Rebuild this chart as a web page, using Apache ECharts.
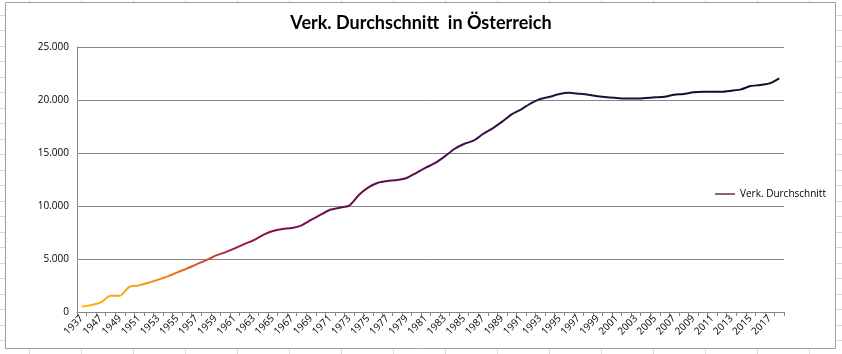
<!DOCTYPE html>
<html><head><meta charset="utf-8">
<script src="https://cdn.jsdelivr.net/npm/echarts@6/dist/echarts.min.js"></script>
<style>html,body{margin:0;padding:0;background:#fff}#c{width:842px;height:354px}</style>
</head><body><div id="c"></div>
<script>
var years = ['1937','1946','1947','1948','1949','1950','1951','1952','1953','1954','1955','1956','1957','1958','1959','1960','1961','1962','1963','1964','1965','1966','1967','1968','1969','1970','1971','1972','1973','1974','1975','1976','1977','1978','1979','1980','1981','1982','1983','1984','1985','1986','1987','1988','1989','1990','1991','1992','1993','1994','1995','1996','1997','1998','1999','2000','2001','2002','2003','2004','2005','2006','2007','2008','2009','2010','2011','2012','2013','2014','2015','2016','2017','2018'];
var values = [500,660,910,1540,1540,2390,2510,2770,3050,3360,3740,4090,4500,4870,5320,5630,6000,6410,6790,7280,7640,7830,7920,8170,8680,9180,9650,9840,10030,11040,11760,12200,12360,12450,12640,13110,13610,14060,14680,15380,15850,16160,16790,17330,17960,18650,19120,19690,20090,20310,20570,20690,20600,20500,20350,20250,20190,20130,20130,20190,20250,20310,20500,20570,20720,20780,20780,20780,20880,21000,21320,21410,21570,22050];
var seriesName = 'Verk. Durchschnitt';
var titleText = 'Verk. Durchschnitt  in Österreich';

function fmt(v){ return String(v).replace(/\B(?=(\d{3})+(?!\d))/g,'.'); }

// spreadsheet cell grid behind the chart (decoration)
var bg = [];
for (var k = 0; k < 18; k++) {
  var gx = 29 + 52 * k + 0.5;
  bg.push({type:'line',shape:{x1:gx,y1:0,x2:gx,y2:354},style:{stroke:'#d9d9d9',lineWidth:1},silent:true,z:-10});
}
for (var r = 0; r < 24; r++) {
  var gy = Math.round(340 - 15.5 * r) + 0.5;
  bg.push({type:'line',shape:{x1:0,y1:gy,x2:842,y2:gy},style:{stroke:'#d9d9d9',lineWidth:1},silent:true,z:-10});
}
bg.push({type:'rect',shape:{x:5.5,y:2.5,width:830,height:346},style:{fill:'#fff',stroke:'#a0a0a0',lineWidth:1},silent:true,z:-5});

var chart = echarts.init(document.getElementById('c'));
chart.setOption({
  animation:false,
  backgroundColor:'#fff',
  graphic:bg,
  title:{text:titleText,left:'center',top:9,textStyle:{fontFamily:'Lato',fontWeight:'bold',fontSize:18,color:'#000'}},
  legend:{right:11,top:184,icon:'path://M0,0H30V2H0Z',itemWidth:20,itemHeight:2,itemGap:3,
    textStyle:{fontFamily:'Open Sans',fontSize:10,color:'#000'},
    data:[{name:seriesName,itemStyle:{color:'#5a0e3a'}}]},
  grid:{left:77,right:58,top:47,bottom:42,containLabel:false},
  xAxis:{type:'category',data:years,boundaryGap:true,
    axisLine:{lineStyle:{color:'#868686'}},
    axisTick:{show:true,interval:0,length:4,lineStyle:{color:'#868686'}},
    axisLabel:{interval:1,rotate:45,fontFamily:'Open Sans',fontSize:10,color:'#000',margin:5}},
  yAxis:{type:'value',min:0,max:25000,interval:5000,
    axisLine:{show:true,lineStyle:{color:'#868686'}},
    axisTick:{show:false},
    splitLine:{lineStyle:{color:'#868686'}},
    axisLabel:{formatter:fmt,fontFamily:'Open Sans',fontSize:10,color:'#000',margin:8}},
  series:[{name:seriesName,type:'line',data:values,smooth:0.2,showSymbol:false,symbol:'none',
    lineStyle:{width:2,color:new echarts.graphic.LinearGradient(0,0,1,0,[
      {offset:0,color:'#FFB31A'},{offset:0.08,color:'#F8A010'},{offset:0.13,color:'#EE7A1A'},
      {offset:0.18,color:'#D04830'},{offset:0.22,color:'#A01848'},{offset:0.28,color:'#80104C'},
      {offset:0.45,color:'#5A0E50'},{offset:0.62,color:'#2A1048'},{offset:0.75,color:'#151535'},
      {offset:1,color:'#0a0a22'}])},
    itemStyle:{color:'#5a0e3a'}}]
});
</script></body></html>
